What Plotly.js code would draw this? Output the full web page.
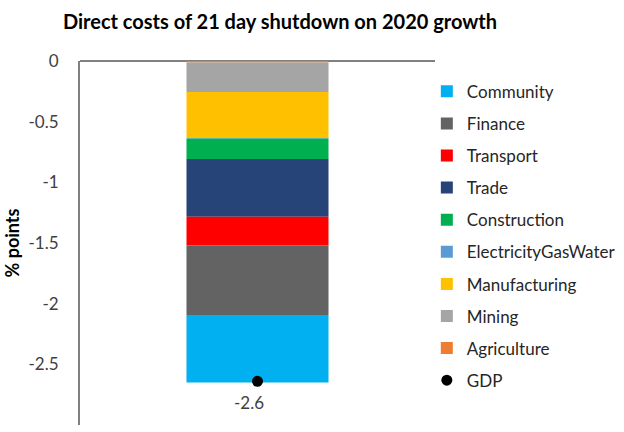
<!DOCTYPE html>
<html>
<head>
<meta charset="utf-8">
<script src="https://cdn.plot.ly/plotly-3.0.1.min.js"></script>
<style>html,body{margin:0;padding:0;background:#fff;}#chart{width:624px;height:432px;}</style>
</head>
<body>
<div id="chart"></div>
<script>
// Stacking order from 0 downward
var sectors = ["Agriculture", "Mining", "Manufacturing", "ElectricityGasWater", "Construction", "Trade", "Transport", "Finance", "Community"];
var values = [-0.013, -0.243, -0.379, -0.003, -0.170, -0.475, -0.236, -0.575, -0.555];
var colors = ["#ED7D31", "#A5A5A5", "#FFC000", "#5B9BD5", "#00B050", "#264478", "#FF0000", "#636363", "#00B0F0"];
var legendRanks = [9, 8, 7, 6, 5, 4, 3, 2, 1];
var category = [0];
var gdpValue = [-2.64];
var gdpLabel = ["-2.6"];
var tickValues = [0, -0.5, -1, -1.5, -2, -2.5, -3];
var tickLabels = ["0", "-0.5", "-1", "-1.5", "-2", "-2.5", "-3"];

var FONT = "Lato, 'Open Sans', sans-serif";
var traces = [];
for (var i = 0; i < sectors.length; i++) {
  traces.push({
    type: "bar",
    name: sectors[i],
    x: category,
    y: [values[i]],
    width: 0.4,
    marker: {color: colors[i], line: {width: 0}},
    legendgroup: sectors[i],
    legendrank: legendRanks[i],
    hoverinfo: "name+y"
  });
}
traces.push({
  type: "scatter",
  mode: "markers",
  name: "GDP",
  x: category,
  y: gdpValue,
  marker: {color: "#000000", size: 11},
  legendgroup: "GDP",
  legendrank: 10,
  cliponaxis: false
});

var layout = {
  width: 624,
  height: 432,
  margin: {l: 80, r: 189, t: 61, b: 7, pad: 0, autoexpand: false},
  paper_bgcolor: "#ffffff",
  plot_bgcolor: "#ffffff",
  barmode: "relative",
  showlegend: true,
  font: {family: FONT, size: 17, color: "#404040"},
  title: {
    text: "<b>Direct costs of 21 day shutdown on 2020 growth</b>",
    font: {family: FONT, size: 20, color: "#000000"},
    x: 280 / 624, xref: "container", xanchor: "center",
    y: 1 - 22 / 432, yref: "container", yanchor: "middle"
  },
  xaxis: {
    type: "linear",
    range: [-0.5, 0.5],
    showticklabels: false,
    showgrid: false,
    zeroline: false,
    showline: false,
    fixedrange: true
  },
  yaxis: {
    range: [-3, 0],
    tickmode: "array",
    tickvals: tickValues,
    ticktext: tickLabels,
    showgrid: false,
    zeroline: true,
    zerolinecolor: "#808080",
    zerolinewidth: 2,
    showline: true,
    linecolor: "#808080",
    linewidth: 2,
    ticks: "outside",
    ticklen: 16,
    tickcolor: "rgba(0,0,0,0)",
    tickfont: {family: FONT, size: 17, color: "#404040"},
    title: {text: "<b>% points</b>", font: {family: FONT, size: 18, color: "#000000"}, standoff: 4},
    automargin: false
  },
  legend: {
    x: 0.977, xanchor: "left",
    y: 0.965, yanchor: "top",
    traceorder: "grouped",
    tracegroupgap: 7,
    font: {family: FONT, size: 17, color: "#262626"},
    bgcolor: "rgba(0,0,0,0)"
  },
  annotations: [{
    x: category[0], y: gdpValue[0], xref: "x", yref: "y",
    text: gdpLabel[0], showarrow: false,
    xshift: -9, yshift: -21,
    font: {family: FONT, size: 17, color: "#404040"}
  }]
};

Plotly.newPlot("chart", traces, layout, {displayModeBar: false, staticPlot: true});
</script>
</body>
</html>
